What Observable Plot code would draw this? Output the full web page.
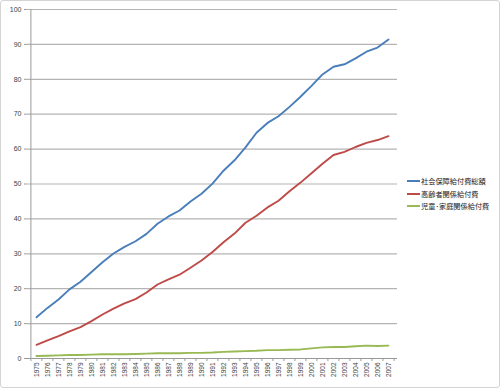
<!DOCTYPE html>
<html>
<head>
<meta charset="utf-8">
<script src="https://cdn.jsdelivr.net/npm/d3@7"></script>
<script src="https://cdn.jsdelivr.net/npm/@observablehq/plot@0.6"></script>
<style>
  html, body { margin: 0; padding: 0; background: #fff; }
  #wrap { position: relative; width: 500px; height: 388px; overflow: hidden; }
  #border { position: absolute; left: 0; top: 0; width: 500px; height: 388px; box-sizing: border-box;
            border: 1.5px solid #d4d4d4; border-radius: 3px; pointer-events: none; }
  #legend { position: absolute; left: 407px; top: 175px; font-family: "Noto Sans CJK JP", sans-serif;
            font-size: 7.2px; color: #222; line-height: 12.5px; }
  #legend .row { display: flex; align-items: center; white-space: nowrap; }
  #legend .sw { display: inline-block; width: 13px; height: 2px; margin-right: 1px; }
</style>
</head>
<body>
<div id="wrap"><div id="chart"></div><div id="legend"></div><div id="border"></div></div>
<script>
const years = ["1975","1976","1977","1978","1979","1980","1981","1982","1983","1984","1985","1986","1987","1988","1989","1990","1991","1992","1993","1994","1995","1996","1997","1998","1999","2000","2001","2002","2003","2004","2005","2006","2007"];
const seriesNames = ["社会保障給付費総額", "高齢者関係給付費", "児童･家庭関係給付費"];
const seriesColors = ["#4a7ebb", "#be4b48", "#98b954"];
const totalValues = [11.8,14.5,16.9,19.8,22.0,24.8,27.6,30.1,32.0,33.6,35.7,38.6,40.7,42.4,45.0,47.2,50.1,53.8,56.8,60.5,64.7,67.5,69.4,72.1,75.0,78.1,81.4,83.6,84.3,86.0,87.9,89.1,91.4];
const elderlyValues = [3.9,5.2,6.4,7.8,9.0,10.7,12.6,14.3,15.8,17.0,18.9,21.2,22.7,24.0,26.0,28.1,30.5,33.3,35.8,38.9,40.9,43.3,45.2,47.9,50.4,53.1,55.8,58.3,59.2,60.6,61.8,62.6,63.7];
const childValues = [0.7,0.8,0.9,1.0,1.0,1.1,1.2,1.2,1.2,1.3,1.4,1.5,1.5,1.5,1.6,1.6,1.7,1.9,2.0,2.1,2.2,2.4,2.4,2.5,2.6,2.9,3.2,3.3,3.3,3.5,3.7,3.6,3.7];
const yTicks = [0,10,20,30,40,50,60,70,80,90,100];

const allSeries = [totalValues, elderlyValues, childValues];
const data = [];
allSeries.forEach((vals, si) => vals.forEach((v, i) => data.push({year: years[i], value: v, series: seriesNames[si]})));

const chart = Plot.plot({
  width: 500,
  height: 388,
  marginLeft: 26,
  marginRight: 103,
  marginTop: 9,
  marginBottom: 30,
  style: { fontFamily: "'Liberation Sans', Arial, sans-serif", fontSize: "7px", color: "#404040", background: "transparent" },
  x: { type: "point", domain: years, padding: 0.5 },
  y: { domain: [0, 100], ticks: yTicks },
  color: { domain: seriesNames, range: seriesColors },
  marks: [
    Plot.gridY(yTicks, { stroke: "#b4b4b4", strokeOpacity: 1, strokeWidth: 1.2 }),
    Plot.axisY(yTicks, { tickSize: 2, tickPadding: 3, stroke: "#999", label: null, fill: "#404040" }),
    Plot.ruleX([years[0]], { stroke: "#999", dx: -5.6 }),
    Plot.ruleY([0], { stroke: "#999" }),
    Plot.axisX(years, { tickSize: 3, stroke: "#999", tickFormat: null, dx: -5.6, label: null }),
    Plot.axisX([years[years.length - 1]], { tickSize: 3, stroke: "#999", tickFormat: null, dx: 5.6, label: null }),
    Plot.axisX(years, { tickSize: 0, tickPadding: 4, tickRotate: -90, label: null, fill: "#404040", fontSize: 6.5 }),
    Plot.line(data, { x: "year", y: "value", z: "series", stroke: "series", strokeWidth: 1.9, curve: "linear" })
  ]
});
document.getElementById("chart").appendChild(chart);

const legend = document.getElementById("legend");
seriesNames.forEach((name, i) => {
  const row = document.createElement("div");
  row.className = "row";
  const sw = document.createElement("span");
  sw.className = "sw";
  sw.style.background = seriesColors[i];
  const t = document.createElement("span");
  t.textContent = name;
  row.appendChild(sw);
  row.appendChild(t);
  legend.appendChild(row);
});
</script>
</body>
</html>
